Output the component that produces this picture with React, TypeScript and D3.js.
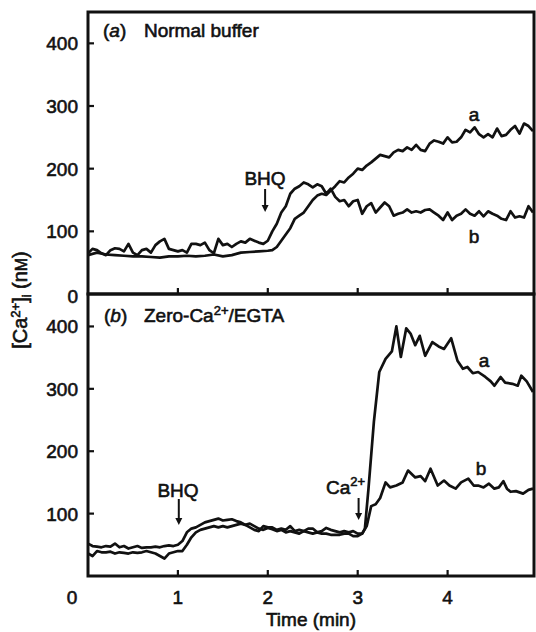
import * as d3 from "d3";

// [Ca2+]i traces: [time (min), concentration (nM)]
const normalA: [number, number][] = [
  [0, 62], [0.1, 66], [0.2, 63], [0.3, 62], [0.4, 61], [0.5, 60], [0.6, 60], [0.7, 59],
  [0.8, 58], [0.9, 60], [1.0, 60], [1.1, 61], [1.2, 60], [1.3, 61], [1.4, 63], [1.5, 60],
  [1.6, 62], [1.7, 66], [1.8, 67], [1.9, 68], [2.0, 69], [2.05, 70], [2.1, 75], [2.15, 85],
  [2.2, 95], [2.25, 105], [2.3, 120], [2.35, 125], [2.4, 130], [2.45, 140], [2.5, 150],
  [2.55, 157], [2.6, 160], [2.65, 158], [2.7, 165], [2.75, 172], [2.8, 180], [2.85, 178],
  [2.9, 186], [2.95, 192], [3.0, 200], [3.05, 198], [3.1, 205], [3.15, 210], [3.2, 216],
  [3.25, 222], [3.3, 220], [3.35, 218], [3.4, 226], [3.45, 230], [3.5, 228], [3.55, 234],
  [3.6, 230], [3.65, 238], [3.7, 230], [3.75, 228], [3.8, 240], [3.85, 245], [3.9, 243],
  [3.95, 240], [4.0, 250], [4.05, 242], [4.1, 243], [4.15, 250], [4.2, 262], [4.25, 258],
  [4.3, 266], [4.35, 255], [4.4, 250], [4.45, 255], [4.5, 250], [4.55, 264], [4.6, 252],
  [4.65, 254], [4.7, 262], [4.75, 268], [4.8, 256], [4.85, 272], [4.9, 268], [4.95, 260],
];

const normalB: [number, number][] = [
  [0, 65], [0.05, 72], [0.1, 70], [0.15, 65], [0.2, 62], [0.25, 70], [0.3, 73], [0.35, 72],
  [0.4, 68], [0.45, 80], [0.5, 66], [0.55, 62], [0.6, 70], [0.65, 72], [0.7, 66], [0.75, 78],
  [0.8, 84], [0.85, 88], [0.9, 72], [0.95, 70], [1.0, 68], [1.05, 70], [1.1, 66], [1.15, 80],
  [1.2, 80], [1.25, 78], [1.3, 82], [1.35, 70], [1.4, 65], [1.45, 88], [1.5, 78], [1.55, 80],
  [1.6, 75], [1.65, 80], [1.7, 84], [1.75, 82], [1.8, 88], [1.85, 85], [1.9, 82], [1.95, 80],
  [2.0, 85], [2.05, 100], [2.1, 112], [2.15, 130], [2.2, 140], [2.25, 160], [2.3, 168],
  [2.35, 172], [2.4, 178], [2.45, 175], [2.5, 170], [2.55, 175], [2.6, 172], [2.65, 160],
  [2.7, 168], [2.75, 155], [2.8, 148], [2.85, 150], [2.9, 140], [2.95, 148], [3.0, 150],
  [3.05, 128], [3.1, 140], [3.15, 145], [3.2, 130], [3.25, 138], [3.3, 146], [3.35, 140],
  [3.4, 125], [3.45, 128], [3.5, 130], [3.55, 135], [3.6, 130], [3.65, 132], [3.7, 130],
  [3.75, 134], [3.8, 135], [3.85, 130], [3.9, 125], [3.95, 118], [4.0, 130], [4.05, 118],
  [4.1, 125], [4.15, 128], [4.2, 135], [4.25, 128], [4.3, 125], [4.35, 132], [4.4, 124],
  [4.45, 132], [4.5, 128], [4.55, 125], [4.6, 120], [4.65, 118], [4.7, 132], [4.75, 122],
  [4.8, 124], [4.85, 122], [4.9, 140], [4.95, 130],
];

const zeroCaA: [number, number][] = [
  [0, 52], [0.05, 48], [0.1, 47], [0.15, 46], [0.2, 48], [0.25, 47], [0.3, 52], [0.35, 46],
  [0.4, 48], [0.45, 44], [0.5, 46], [0.55, 48], [0.6, 45], [0.65, 46], [0.7, 46], [0.75, 47],
  [0.8, 46], [0.85, 48], [0.9, 49], [0.95, 48], [1.0, 50], [1.05, 56], [1.1, 70], [1.15, 76],
  [1.2, 78], [1.25, 82], [1.3, 86], [1.35, 88], [1.4, 90], [1.45, 92], [1.5, 89], [1.55, 90],
  [1.6, 91], [1.65, 88], [1.7, 86], [1.75, 82], [1.8, 84], [1.85, 80], [1.9, 76], [1.95, 74],
  [2.0, 77], [2.05, 75], [2.1, 72], [2.15, 74], [2.2, 70], [2.25, 72], [2.3, 70], [2.35, 68],
  [2.4, 72], [2.45, 70], [2.5, 68], [2.55, 70], [2.6, 68], [2.65, 68], [2.7, 66], [2.75, 66],
  [2.8, 66], [2.85, 68], [2.9, 68], [2.95, 64], [3.0, 64], [3.05, 68], [3.08, 76],
  [3.12, 140], [3.18, 247], [3.24, 327], [3.31, 348], [3.38, 360], [3.43, 400], [3.48, 351],
  [3.54, 397], [3.59, 388], [3.64, 370], [3.69, 385], [3.75, 353], [3.83, 375], [3.9, 368],
  [3.96, 364], [4.04, 381], [4.11, 345], [4.17, 332], [4.22, 335], [4.28, 325], [4.34, 327],
  [4.42, 319], [4.48, 312], [4.52, 305], [4.59, 319], [4.64, 310], [4.72, 308], [4.78, 305],
  [4.82, 321], [4.88, 312], [4.95, 295],
];

const zeroCaB: [number, number][] = [
  [0, 36], [0.05, 32], [0.1, 40], [0.15, 38], [0.2, 38], [0.25, 39], [0.3, 36], [0.35, 38],
  [0.4, 37], [0.45, 36], [0.5, 38], [0.55, 37], [0.6, 38], [0.65, 40], [0.7, 38], [0.75, 36],
  [0.8, 32], [0.85, 28], [0.9, 36], [0.95, 38], [1.0, 40], [1.05, 40], [1.1, 50], [1.15, 62],
  [1.2, 70], [1.25, 74], [1.3, 76], [1.35, 78], [1.4, 80], [1.45, 78], [1.5, 80], [1.55, 78],
  [1.6, 80], [1.65, 82], [1.7, 84], [1.75, 82], [1.8, 78], [1.85, 74], [1.9, 72], [1.95, 80],
  [2.0, 78], [2.05, 78], [2.1, 74], [2.15, 76], [2.2, 74], [2.25, 80], [2.3, 72], [2.35, 74],
  [2.4, 72], [2.45, 76], [2.5, 76], [2.55, 70], [2.6, 72], [2.65, 77], [2.7, 74], [2.75, 72],
  [2.8, 70], [2.85, 72], [2.9, 70], [2.95, 72], [3.0, 68], [3.05, 68], [3.1, 80], [3.15, 112],
  [3.2, 115], [3.25, 125], [3.31, 150], [3.36, 142], [3.43, 145], [3.5, 150], [3.56, 169],
  [3.64, 158], [3.7, 160], [3.75, 152], [3.81, 172], [3.89, 145], [3.96, 153], [4.02, 145],
  [4.09, 140], [4.15, 150], [4.23, 156], [4.29, 145], [4.34, 145], [4.4, 142], [4.46, 148],
  [4.52, 140], [4.57, 142], [4.62, 152], [4.66, 140], [4.7, 135], [4.76, 136], [4.84, 132],
  [4.9, 138], [4.95, 140],
];

const yTicks = [0, 100, 200, 300, 400];
const yTicksLower = [100, 200, 300, 400];
const xTicks = [0, 1, 2, 3, 4];
const innerTicks = [1, 2, 3, 4];

const FONT = "'Liberation Sans', Arial, Helvetica, sans-serif";

export default function App() {
  const W = 536;
  const H = 632;
  const left = 88;
  const right = 534;

  const x = d3.scaleLinear().domain([0, 5]).range([left, 537.5]);
  const yTop = d3.scaleLinear().domain([0, 450]).range([294, 12]);
  const yBot = d3.scaleLinear().domain([0, 452]).range([576, 294]);

  const lineTop = d3.line<[number, number]>().x(d => x(d[0])).y(d => yTop(d[1]));
  const lineBot = d3.line<[number, number]>().x(d => x(d[0])).y(d => yBot(d[1]));

  const txt = { fontFamily: FONT, fontSize: 19, fill: "#111", stroke: "#111", strokeWidth: 0.6 };

  // downward arrow ending at y1
  const arrow = (xp: number, y0: number, y1: number) => (
    <g>
      <line x1={xp} x2={xp} y1={y0} y2={y1 - 6} stroke="#111" strokeWidth={2} />
      <path d={`M${xp - 3.5},${y1 - 7} L${xp + 3.5},${y1 - 7} L${xp},${y1} Z`} fill="#111" />
    </g>
  );

  return (
    <svg width={W} height={H} style={{ position: "absolute", left: 0, top: 0, background: "#fff" }}>
      <defs>
        <clipPath id="clipTop">
          <rect x={left} y={yTop.range()[1]} width={right - left} height={282} />
        </clipPath>
        <clipPath id="clipBot">
          <rect x={left} y={yBot.range()[1]} width={right - left} height={282} />
        </clipPath>
      </defs>

      {/* traces */}
      <g clipPath="url(#clipTop)" fill="none" stroke="#111" strokeWidth={2.7} strokeLinejoin="round">
        <path d={lineTop(normalA) || ""} />
        <path d={lineTop(normalB) || ""} />
      </g>
      <g clipPath="url(#clipBot)" fill="none" stroke="#111" strokeWidth={2.7} strokeLinejoin="round">
        <path d={lineBot(zeroCaA) || ""} />
        <path d={lineBot(zeroCaB) || ""} />
      </g>

      {/* frames */}
      <g fill="none" stroke="#111" strokeWidth={3}>
        <rect x={left} y={12} width={right - left} height={282} />
        <rect x={left} y={294} width={right - left} height={282} />
      </g>

      {/* ticks */}
      <g stroke="#111" strokeWidth={2.2}>
        {yTicks.filter(t => t > 0).map(t => (
          <line key={"ty" + t} x1={left} x2={left + 6} y1={yTop(t)} y2={yTop(t)} />
        ))}
        {yTicksLower.map(t => (
          <line key={"by" + t} x1={left} x2={left + 6} y1={yBot(t)} y2={yBot(t)} />
        ))}
        {innerTicks.map(t => (
          <line key={"tx" + t} x1={x(t)} x2={x(t)} y1={yTop(0)} y2={yTop(0) - 6} />
        ))}
        {innerTicks.map(t => (
          <line key={"bx" + t} x1={x(t)} x2={x(t)} y1={yBot(0)} y2={yBot(0) - 6} />
        ))}
      </g>

      {/* y tick labels */}
      <g {...txt} textAnchor="end">
        {yTicks.map(t => (
          <text key={"tl" + t} x={78} y={(t === 0 ? yTop(t) + 2 : yTop(t)) + 7}>{t}</text>
        ))}
        {yTicksLower.map(t => (
          <text key={"bl" + t} x={78} y={yBot(t) + 7}>{t}</text>
        ))}
      </g>

      {/* x tick labels */}
      <g {...txt} textAnchor="middle">
        {xTicks.map(t => (
          <text key={"xl" + t} x={t === 0 ? 72 : x(t)} y={604}>{t}</text>
        ))}
        <text x={(left + right) / 2} y={626}>Time (min)</text>
      </g>

      {/* y axis title */}
      <text {...txt} fontSize={20} transform="translate(27,300) rotate(-90)" textAnchor="middle">
        [Ca<tspan dy={-7} fontSize={13}>2+</tspan><tspan dy={7}>]</tspan>
        <tspan dy={4} fontSize={12}>i</tspan><tspan dy={-4}> (n</tspan>
        <tspan fontSize={16}>M</tspan>)
      </text>

      {/* panel titles */}
      <text {...txt} x={103} y={37}>
        (<tspan fontStyle="italic">a</tspan>)<tspan x={144}>Normal buffer</tspan>
      </text>
      <text {...txt} x={104} y={322}>
        (<tspan fontStyle="italic">b</tspan>)<tspan x={144}>Zero-Ca</tspan>
        <tspan dy={-7} fontSize={13}>2+</tspan><tspan dy={7}>/EGTA</tspan>
      </text>

      {/* annotations */}
      <g {...txt} textAnchor="middle">
        <text x={265} y={185}>BHQ</text>
        <text x={178} y={497}>BHQ</text>
        <text x={474} y={121}>a</text>
        <text x={474} y={243}>b</text>
        <text x={484} y={367}>a</text>
        <text x={481} y={475}>b</text>
      </g>
      <text {...txt} x={326} y={494}>
        Ca<tspan dy={-8} fontSize={13}>2+</tspan>
      </text>
      {arrow(x(1.97), 189, 212)}
      {arrow(x(1.01), 499, 525)}
      {arrow(x(3.01), 498, 520)}
    </svg>
  );
}
